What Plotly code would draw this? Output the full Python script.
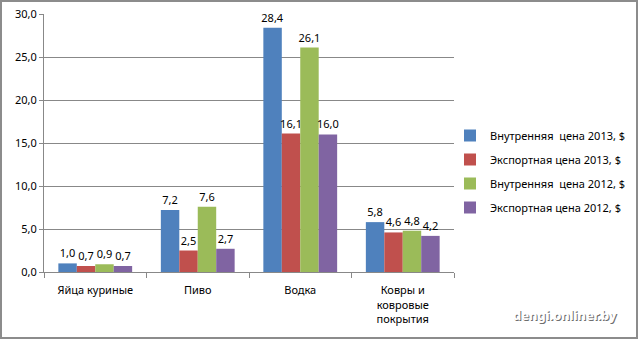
import plotly.graph_objects as go

categories = ["Яйца куриные", "Пиво", "Водка", "Ковры и<br>ковровые<br>покрытия"]
series_names = ["Внутренняя  цена 2013, $", "Экспортная цена 2013, $",
                "Внутренняя  цена 2012, $", "Экспортная цена 2012, $"]
dom_2013 = [1.0, 7.2, 28.4, 5.8]
exp_2013 = [0.7, 2.5, 16.1, 4.6]
dom_2012 = [0.9, 7.6, 26.1, 4.8]
exp_2012 = [0.7, 2.7, 16.0, 4.2]
series_values = [dom_2013, exp_2013, dom_2012, exp_2012]
colors = ["#4F81BD", "#C0504D", "#9BBB59", "#8064A2"]
y_ticks = [0, 5, 10, 15, 20, 25, 30]

W, H = 639, 340
L, R, T, B = 44, 185, 14, 68
pw, ph = W - L - R, H - T - B

FONT = "Noto Sans"
fig = go.Figure()
for i, (name, vals, col) in enumerate(zip(series_names, series_values, colors)):
    fig.add_trace(go.Bar(
        x=categories, y=vals, name=name, marker_color=col, marker_line_width=0,
        text=vals, texttemplate="%{y:.1f}", textposition="outside",
        constraintext="none",
        textfont=dict(size=11, color="black", family=FONT), cliponaxis=False,
        legendgroup=f"g{i}",
    ))

def px_to_paper_x(px):
    return (px - L) / pw

def px_to_paper_y(py):
    return 1 - (py - T) / ph

shapes = [dict(type="rect", xref="paper", yref="paper",
               x0=px_to_paper_x(1), x1=px_to_paper_x(637),
               y0=px_to_paper_y(1), y1=px_to_paper_y(338),
               line=dict(color="#8C8C8C", width=2), fillcolor="rgba(0,0,0,0)", layer="below")]

fig.update_layout(
    width=W, height=H,
    margin=dict(l=L, r=R, t=T, b=B, pad=0, autoexpand=False),
    paper_bgcolor="white", plot_bgcolor="white",
    separators=", ",
    barmode="group", bargap=0.28, bargroupgap=0,
    font=dict(family=FONT, size=11, color="black"),
    showlegend=True,
    legend=dict(x=px_to_paper_x(450), y=px_to_paper_y(121), xanchor="left", yanchor="top",
                font=dict(size=11, family=FONT), tracegroupgap=5,
                itemwidth=30, bgcolor="rgba(0,0,0,0)"),
    shapes=shapes,
    xaxis=dict(showline=True, linecolor="#888888", linewidth=1, ticks="outside",
               tickson="boundaries", ticklen=5, tickcolor="#888888",
               ticklabelstandoff=8,
               showgrid=False, tickfont=dict(size=11, family=FONT)),
    yaxis=dict(range=[0, 30], tickvals=y_ticks, tickformat=".1f", showline=True,
               linecolor="#888888", linewidth=1, ticks="outside", ticklen=4,
               tickcolor="#888888", gridcolor="#888888", gridwidth=1,
               zeroline=False, tickfont=dict(size=11, family=FONT)),
    annotations=[
        dict(text="<b>dengi.onliner.by</b>", xref="paper", yref="paper",
             x=px_to_paper_x(566), y=px_to_paper_y(316), showarrow=False,
             xanchor="center", yanchor="middle",
             font=dict(size=13, family=FONT, color="#6E6E6E")),
        dict(text="<b>dengi.onliner.by</b>", xref="paper", yref="paper",
             x=px_to_paper_x(565), y=px_to_paper_y(315), showarrow=False,
             xanchor="center", yanchor="middle",
             font=dict(size=13, family=FONT, color="white")),
    ],
)

fig.write_html("out.html")
